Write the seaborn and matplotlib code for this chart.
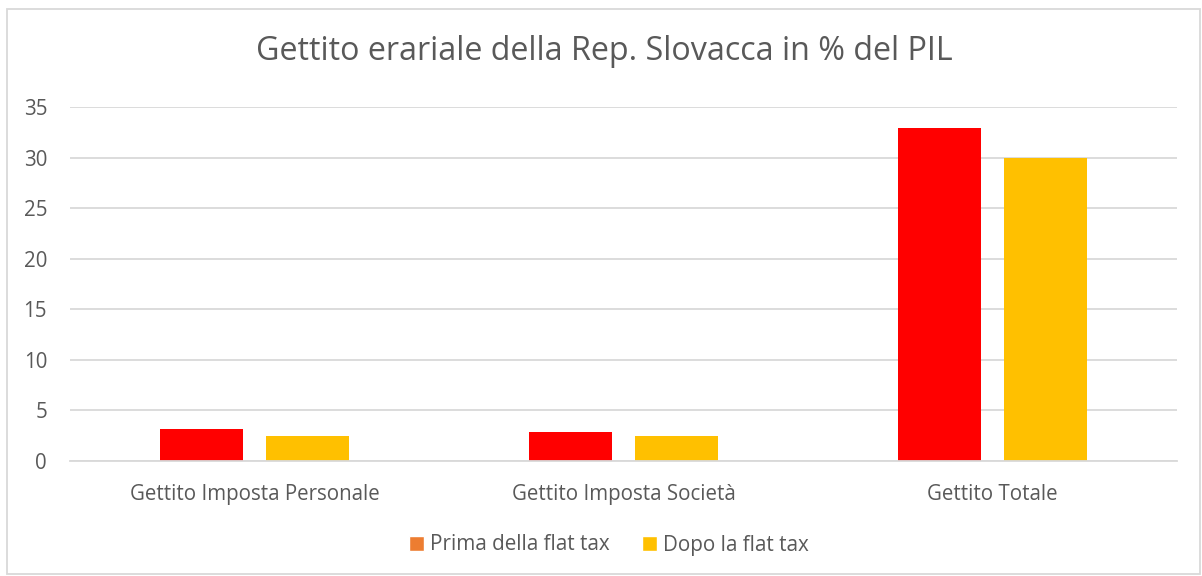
import matplotlib
matplotlib.use("Agg")
import matplotlib.pyplot as plt
import seaborn as sns
import pandas as pd
from matplotlib.patches import Patch, Rectangle

categories = ["Gettito Imposta Personale", "Gettito Imposta Società", "Gettito Totale"]
series_names = ["Prima della flat tax", "Dopo la flat tax"]
prima = [3.2, 2.9, 32.9]
dopo = [2.5, 2.5, 30.0]
yticks = [0, 5, 10, 15, 20, 25, 30, 35]

df = pd.DataFrame({
    "cat": categories * 2,
    "serie": [series_names[0]] * 3 + [series_names[1]] * 3,
    "val": prima + dopo,
})

sns.set_theme(style="white")
plt.rcParams["font.family"] = ["Open Sans", "DejaVu Sans"]
txt = "#595959"
grid = "#D9D9D9"

fig = plt.figure(figsize=(12.02, 5.76), dpi=100)
ax = fig.add_axes([70/1202, 1-461/576, 1107/1202, 354/576])
sns.barplot(data=df, x="cat", y="val", hue="serie", order=categories,
            hue_order=series_names, palette=["#FF0000", "#FFC000"],
            width=0.57, gap=0.21, ax=ax, legend=False, saturation=1,
            linewidth=0)
ax.set_ylim(0, 35)
ax.set_xlim(-0.5, 2.5)
ax.set_yticks(yticks)
ax.yaxis.grid(True, color=grid, linewidth=1.3)
ax.set_axisbelow(True)
for s in ["top", "right", "left"]:
    ax.spines[s].set_visible(False)
ax.spines["bottom"].set_color(grid)
ax.spines["bottom"].set_linewidth(1.3)
ax.tick_params(axis="both", length=0, colors=txt, labelsize=14.8)
ax.tick_params(axis="x", pad=16.5)
ax.tick_params(axis="y", pad=16.5)
ax.set_xlabel("")
ax.set_ylabel("")

fig.text(0.503, 1-52/576, "Gettito erariale della Rep. Slovacca in % del PIL",
         ha="center", va="center", fontsize=23.2, color=txt)

handles = [Patch(facecolor="#ED7D31"), Patch(facecolor="#FFC000")]
fig.legend(handles, series_names, loc="center", bbox_to_anchor=(0.5065, 1-545/576),
           ncol=2, frameon=False, fontsize=14.9, labelcolor=txt,
           handlelength=0.72, handleheight=0.72, handletextpad=0.3, columnspacing=1.55)

fig.patches.append(Rectangle((7/1202, 2/576), 1-9/1202, 1-11/576,
                             transform=fig.transFigure, fill=False,
                             edgecolor="#D9D9D9", linewidth=1.3))
fig.savefig("out.png", dpi=100)
